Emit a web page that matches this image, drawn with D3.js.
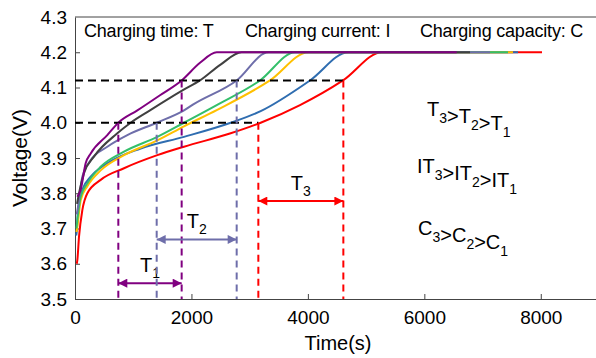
<!DOCTYPE html>
<html>
<head>
<meta charset="utf-8">
<script src="https://cdn.jsdelivr.net/npm/d3@7"></script>
<style>
  body { margin: 0; background: #fff; }
  text { font-family: "Liberation Sans", Arial, sans-serif; fill: #000; }
</style>
</head>
<body>
<div class="canvas"></div>
<script>
// curve data: [time (s), voltage (V)]
const purple = [[40, 3.79], [98, 3.81], [183, 3.885], [270, 3.913], [555, 3.965], [744, 4.0], [1071, 4.035], [1460, 4.078], [1832, 4.12], [2147, 4.17], [2434, 4.2], [6556, 4.2]];
const gray = [[35, 3.77], [69, 3.8], [155, 3.857], [326, 3.904], [727, 3.97], [956, 4.0], [1288, 4.035], [1860, 4.093], [2147, 4.12], [2500, 4.165], [2863, 4.2], [6785, 4.2]];
const slate = [[30, 3.74], [52, 3.762], [126, 3.847], [270, 3.894], [555, 3.932], [899, 3.965], [1403, 4.0], [1872, 4.035], [2032, 4.052], [2777, 4.12], [3320, 4.2], [7128, 4.2]];
const green = [[25, 3.7], [40, 3.724], [98, 3.79], [212, 3.828], [441, 3.875], [842, 3.918], [1414, 3.96], [1872, 4.0], [2434, 4.05], [3178, 4.12], [3779, 4.2], [7437, 4.2]];
const yellow = [[25, 3.69], [40, 3.705], [98, 3.78], [212, 3.82], [441, 3.865], [842, 3.908], [1414, 3.95], [1872, 3.99], [2434, 4.036], [3349, 4.12], [4008, 4.2], [7523, 4.2]];
const blue = [[20, 3.68], [29, 3.69], [52, 3.752], [126, 3.81], [270, 3.847], [555, 3.885], [1128, 3.927], [1872, 3.96], [2674, 4.0], [3189, 4.033], [4036, 4.12], [4695, 4.2], [7609, 4.2]];
const red = [[30, 3.6], [40, 3.61], [69, 3.677], [126, 3.752], [212, 3.8], [441, 3.838], [842, 3.871], [1414, 3.908], [1872, 3.932], [2674, 3.97], [3189, 4.0], [3865, 4.05], [4603, 4.12], [5268, 4.2], [8021, 4.2]];

// drawing order: red first, purple on top
const series = [red, blue, yellow, green, slate, gray, purple];
const colors = ["#ff0000", "#2f6db0", "#ffc000", "#33bf6a", "#6e6eaa", "#404040", "#800080"];

const xTicks = [0, 2000, 4000, 6000, 8000];
const yTicks = [3.5, 3.6, 3.7, 3.8, 3.9, 4.0, 4.1, 4.2, 4.3];

// reference levels and crossing times
const levels = [4.0, 4.12];
const crossings = [
  { name: "1", color: "#800080", t: [744, 1832], v: 3.545 },
  { name: "2", color: "#6e6eaa", t: [1403, 2777], v: 3.669 },
  { name: "3", color: "#ff0000", t: [3149, 4609], v: 3.778 },
];

const headers = ["Charging time: T", "Charging current: I", "Charging capacity: C"];
const relations = [
  [["T", "3"], [">T", "2"], [">T", "1"]],
  [["IT", "3"], [">IT", "2"], [">IT", "1"]],
  [["C", "3"], [">C", "2"], [">C", "1"]],
];

const dims = { width: 596, height: 358 };
const margin = { left: 75, top: 17, bottom: 59 };

const svg = d3
  .select(".canvas")
  .append("svg")
  .attr("width", dims.width)
  .attr("height", dims.height);

const x = d3.scaleLinear().domain([0, 9000]).range([margin.left, 599]);
const y = d3
  .scaleLinear()
  .domain([3.5, 4.3])
  .range([dims.height - margin.bottom, margin.top]);

// arrow heads
const defs = svg.append("defs");
crossings.forEach((c) => {
  defs
    .append("marker")
    .attr("id", "arrow" + c.name)
    .attr("viewBox", "0 0 10 10")
    .attr("refX", 10)
    .attr("refY", 5)
    .attr("markerUnits", "userSpaceOnUse")
    .attr("markerWidth", 14)
    .attr("markerHeight", 9)
    .attr("orient", "auto-start-reverse")
    .append("path")
    .attr("d", "M0,0L10,5L0,10Z")
    .attr("fill", c.color);
});

// axes (ticks pointing inward)
const xAxis = d3.axisBottom(x).tickValues(xTicks).tickSizeInner(-5).tickSizeOuter(0).tickPadding(12).tickFormat(d3.format("d"));
const yAxis = d3.axisLeft(y).tickValues(yTicks).tickSizeInner(-5).tickSizeOuter(0).tickPadding(8).tickFormat(d3.format(".1f"));

const gx = svg.append("g").attr("transform", `translate(0, ${y(3.5)})`).call(xAxis);
const gy = svg.append("g").attr("transform", `translate(${margin.left}, 0)`).call(yAxis);

[gx, gy].forEach((g) => {
  g.select(".domain").attr("stroke", "#444");
  g.selectAll(".tick line").attr("stroke", "#444");
  g.selectAll(".tick text").attr("font-size", 19).attr("fill", "#000");
});
gy.selectAll(".tick").filter((d) => d === 4.3).select("line").remove();

// top border
svg
  .append("line")
  .attr("x1", x(0))
  .attr("x2", x(9000))
  .attr("y1", y(4.3))
  .attr("y2", y(4.3))
  .attr("stroke", "#444");

// axis titles
svg
  .append("text")
  .attr("x", 338)
  .attr("y", 350)
  .attr("text-anchor", "middle")
  .attr("font-size", 20)
  .text("Time(s)");

svg
  .append("text")
  .attr("transform", `translate(27, ${y(3.9)}) rotate(-90)`)
  .attr("text-anchor", "middle")
  .attr("font-size", 21)
  .text("Voltage(V)");

// curves
const line = d3
  .line()
  .x((d) => x(d[0]))
  .y((d) => y(d[1]))
  .curve(d3.curveMonotoneX);

svg
  .append("g")
  .selectAll("path")
  .data(series)
  .enter()
  .append("path")
  .attr("d", line)
  .attr("fill", "none")
  .attr("stroke", (d, i) => colors[i])
  .attr("stroke-width", 2)
  .attr("stroke-linejoin", "round");

// horizontal dashed reference lines up to the slowest curve
const last = crossings[crossings.length - 1];
svg
  .append("g")
  .selectAll("line")
  .data(levels)
  .enter()
  .append("line")
  .attr("x1", x(0))
  .attr("x2", (d, i) => x(last.t[i]))
  .attr("y1", (d) => y(d))
  .attr("y2", (d) => y(d))
  .attr("stroke", "#000")
  .attr("stroke-width", 2)
  .attr("stroke-dasharray", "8,5");

// vertical dashed lines and double arrows
crossings.forEach((c) => {
  const g = svg.append("g");

  g.selectAll("line")
    .data(c.t)
    .enter()
    .append("line")
    .attr("x1", (d) => x(d))
    .attr("x2", (d) => x(d))
    .attr("y1", (d, i) => y(levels[i]))
    .attr("y2", y(3.5))
    .attr("stroke", c.color)
    .attr("stroke-width", 2)
    .attr("stroke-dasharray", "7,5");

  g.append("line")
    .attr("x1", x(c.t[0]))
    .attr("x2", x(c.t[1]))
    .attr("y1", y(c.v))
    .attr("y2", y(c.v))
    .attr("stroke", c.color)
    .attr("stroke-width", 2)
    .attr("marker-start", `url(#arrow${c.name})`)
    .attr("marker-end", `url(#arrow${c.name})`);

  const label = g
    .append("text")
    .attr("x", (x(c.t[0]) + x(c.t[1])) / 2)
    .attr("y", y(c.v) - 11)
    .attr("text-anchor", "middle")
    .attr("font-size", 20);
  label.append("tspan").text("T");
  label.append("tspan").attr("font-size", 14).attr("dy", 6).text(c.name);
});

// header texts
const headerX = [84, 245, 420];
svg
  .append("g")
  .selectAll("text")
  .data(headers)
  .enter()
  .append("text")
  .attr("x", (d, i) => headerX[i])
  .attr("y", 37)
  .attr("font-size", 18)
  .attr("letter-spacing", -0.2)
  .text((d) => d);

// relation texts with subscripts
const relX = [427, 417, 418];
const relY = [116, 173, 235];
relations.forEach((parts, i) => {
  const t = svg
    .append("text")
    .attr("x", relX[i])
    .attr("y", relY[i])
    .attr("font-size", 20);
  parts.forEach((p) => {
    t.append("tspan").text(p[0]);
    t.append("tspan").attr("font-size", 14).attr("dy", 7).text(p[1]);
    t.append("tspan").attr("dy", -7).text("");
  });
});
</script>
</body>
</html>
